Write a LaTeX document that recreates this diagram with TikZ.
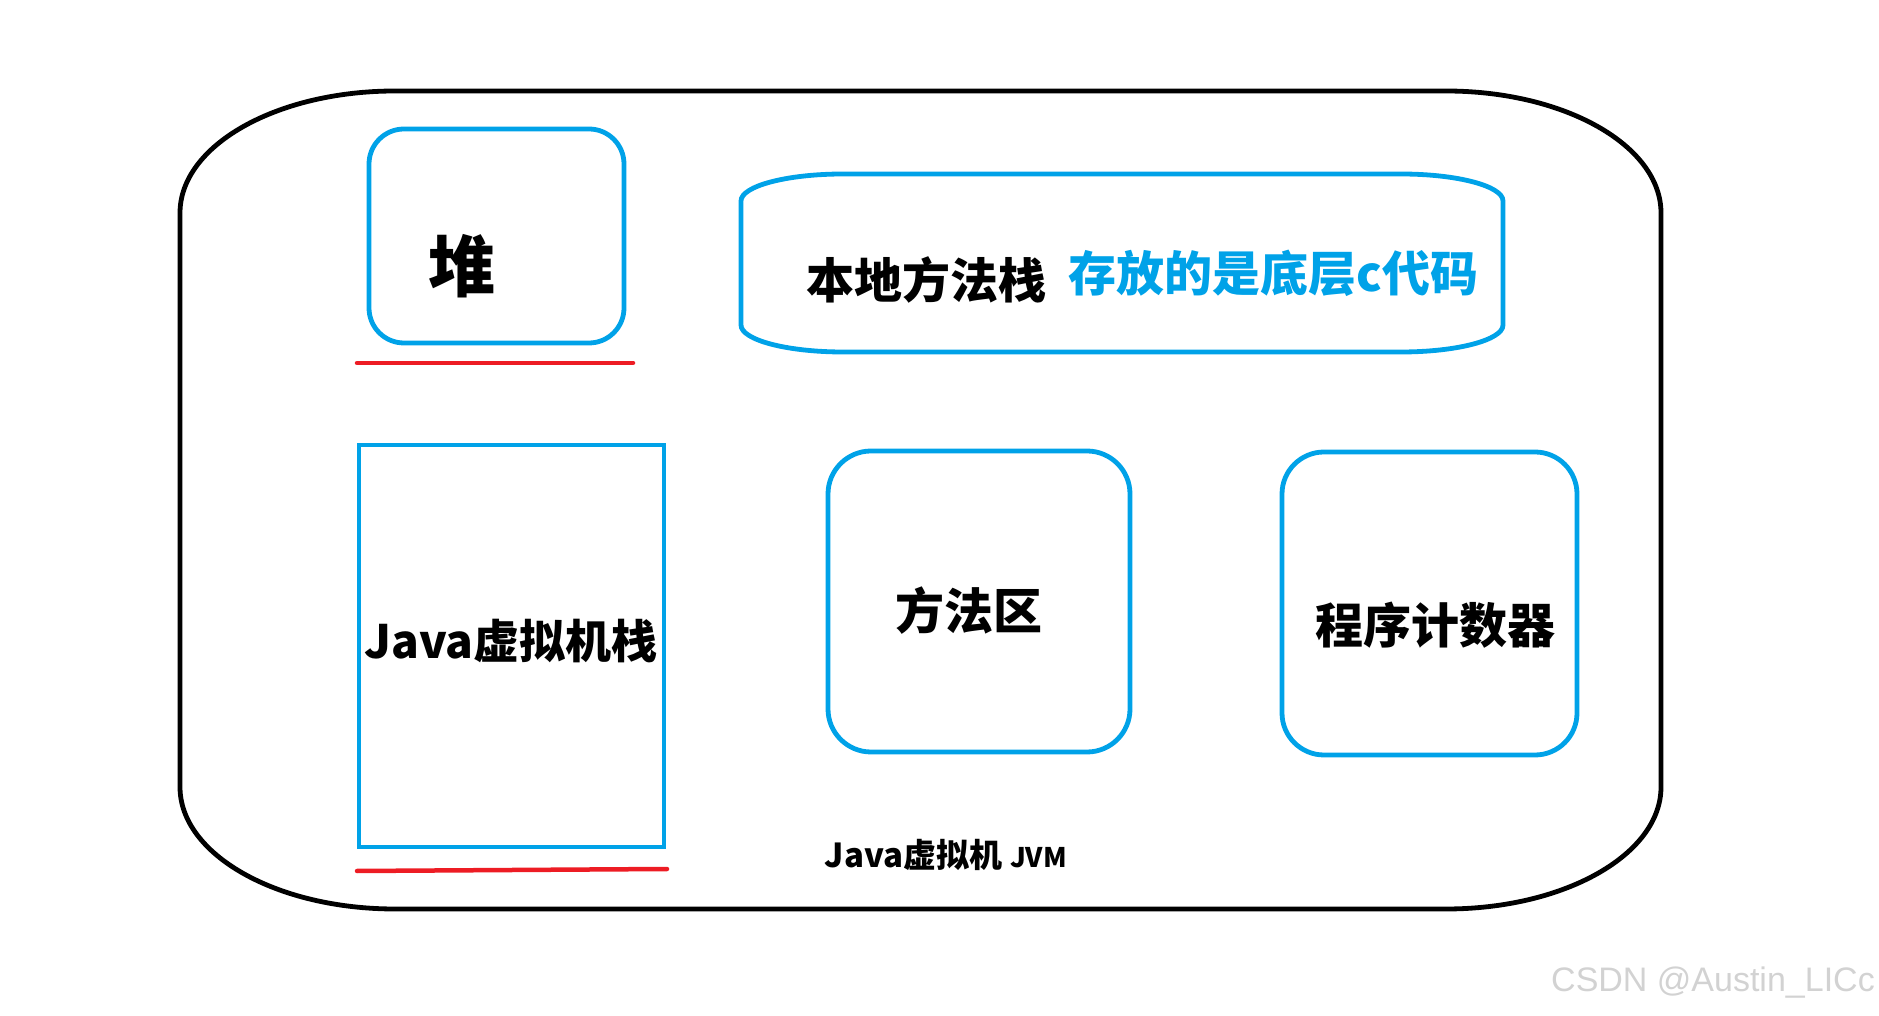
\documentclass[tikz,border=0pt]{standalone}
\usepackage{fontspec}
\newfontfamily\cjk{Noto Sans CJK SC}
\newfontfamily\wmfont{Liberation Sans}
\definecolor{jblue}{HTML}{00A2E8}
\definecolor{jred}{HTML}{ED1C24}
\definecolor{wmgray}{HTML}{D2D2D2}
\tikzset{
  outerline/.style={draw=black, line width=4.8pt},
  bluebox/.style={draw=jblue, line width=4.8pt, inner sep=0pt},
  redline/.style={draw=jred, line width=4.5pt, line cap=round},
  lbl/.style={inner sep=0pt, text=black},
}
\begin{document}
\begin{tikzpicture}[x=1pt,y=1pt]
\useasboundingbox (0,0) rectangle (1879,1015);
% outer JVM shape
\draw[outerline] (395,924) -- (1446,924)
  arc[start angle=90,end angle=0,x radius=215pt,y radius=122pt] -- (1661,228)
  arc[start angle=0,end angle=-90,x radius=215pt,y radius=122pt] -- (395,106)
  arc[start angle=270,end angle=180,x radius=215pt,y radius=122pt] -- (180,802)
  arc[start angle=180,end angle=90,x radius=215pt,y radius=122pt] -- cycle;

% heap
\node[bluebox, rounded corners=35pt, minimum width=255pt, minimum height=214pt] (heap) at (496.5,779) {};
\node[lbl, font=\cjk\bfseries\fontsize{67pt}{80pt}\selectfont] (heaptxt) at (462,749) {堆};
\coordinate (r1a) at (357,652);
\coordinate (r1b) at (633,652);
\draw[redline] (r1a) -- (r1b);

% native method stack
\draw[draw=jblue, line width=4.8pt] (843,841) -- (1401,841)
  arc[start angle=90,end angle=0,x radius=102pt,y radius=27pt] -- (1503,690)
  arc[start angle=0,end angle=-90,x radius=102pt,y radius=27pt] -- (843,663)
  arc[start angle=270,end angle=180,x radius=102pt,y radius=27pt] -- (741,814)
  arc[start angle=180,end angle=90,x radius=102pt,y radius=27pt] -- cycle;
\node[lbl, font=\cjk\bfseries\fontsize{48pt}{58pt}\selectfont] (nativetxt) at (926,735) {本地方法栈};
\node[lbl, text=jblue, font=\cjk\bfseries\fontsize{48pt}{58pt}\selectfont] (nativenote) at (1273.5,742) {存放的是底层c代码};

% java vm stack
\node[bluebox, minimum width=305pt, minimum height=402pt] (vmstack) at (511.5,369) {};
\node[lbl, font=\cjk\bfseries\fontsize{46pt}{56pt}\selectfont] (vmstacktxt) at (511,374) {Java虚拟机栈};
\coordinate (r2a) at (357,144);
\coordinate (r2b) at (667,146);
\draw[redline] (r2a) -- (r2b);

% method area
\node[bluebox, rounded corners=43pt, minimum width=302pt, minimum height=301pt] (method) at (979,413.5) {};
\node[lbl, font=\cjk\bfseries\fontsize{49pt}{59pt}\selectfont] (methodtxt) at (969,404) {方法区};

% program counter
\node[bluebox, rounded corners=42pt, minimum width=295pt, minimum height=303pt] (pc) at (1429.5,411.5) {};
\node[lbl, font=\cjk\bfseries\fontsize{48pt}{58pt}\selectfont] (pctxt) at (1435,390) {程序计数器};

% JVM label
\node[lbl, font=\cjk\bfseries] (jvm) at (946,160) {\fontsize{33pt}{40pt}\selectfont Java虚拟机 \fontsize{27pt}{32pt}\selectfont JVM};

% watermark
\node[lbl, text=wmgray, font=\wmfont\fontsize{34pt}{40pt}\selectfont] (wm) at (1713,32) {CSDN @Austin\_LICc};
\end{tikzpicture}
\end{document}
